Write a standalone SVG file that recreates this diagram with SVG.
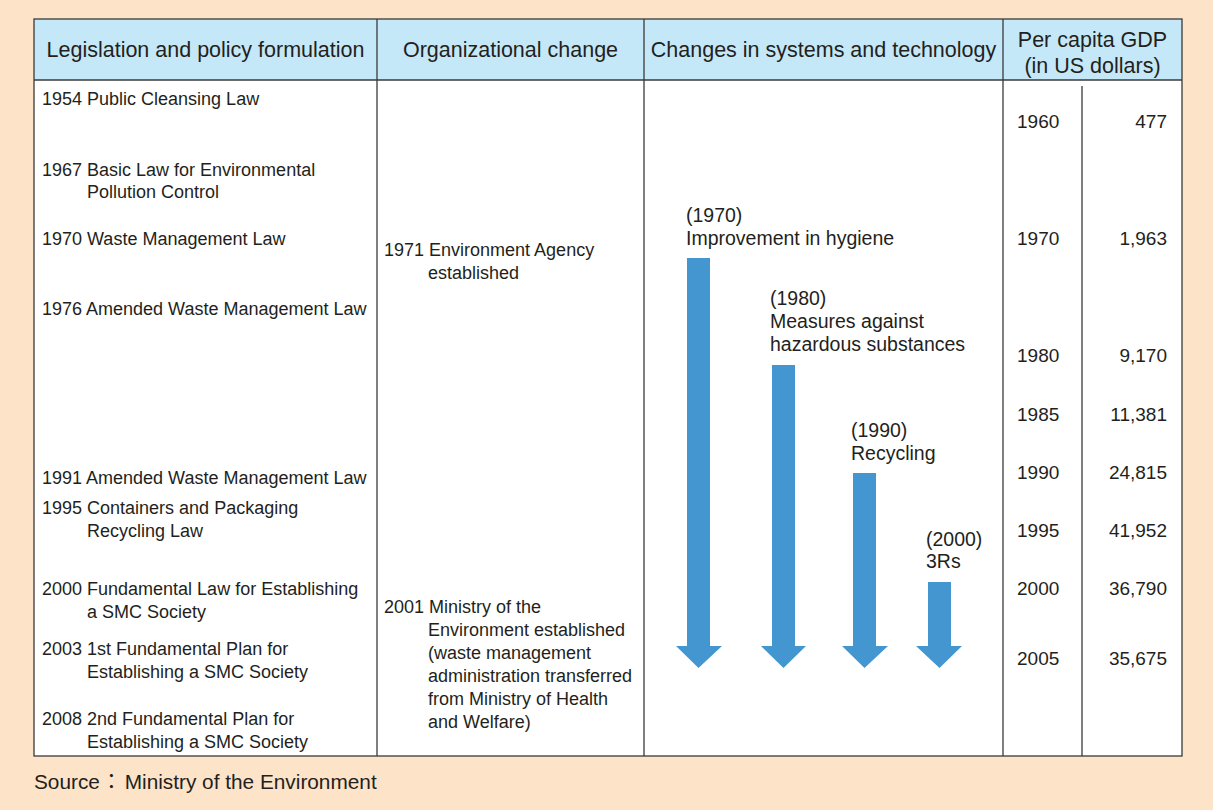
<svg xmlns="http://www.w3.org/2000/svg" width="1213" height="810" viewBox="0 0 1213 810">
<style>
text{font-family:"Liberation Sans",Arial,"Noto Sans CJK JP",sans-serif;fill:#231f20}
.hd{font-size:21.5px;text-anchor:middle}
.b{font-size:18px}
.g{font-size:19px}
.gr{font-size:19px;text-anchor:end}
.al{font-size:19.5px}
.src{font-size:20.8px}
.ln{stroke:#3a3a3a;stroke-width:1.3;fill:none}
.arr{fill:#4496d1}
</style>
<rect x="0" y="0" width="1213" height="810" fill="#fde3c8"/>
<g id="table">
<rect x="34" y="19" width="1148" height="737" fill="#ffffff"/>
<rect x="34" y="19" width="1148" height="61" fill="#c5e8f8"/>
<rect class="ln" x="34" y="19" width="1148" height="737"/>
<line class="ln" x1="34" y1="80" x2="1182" y2="80"/>
<line class="ln" x1="377" y1="19" x2="377" y2="756"/>
<line class="ln" x1="644" y1="19" x2="644" y2="756"/>
<line class="ln" x1="1003" y1="19" x2="1003" y2="756"/>
<line class="ln" x1="1082" y1="86" x2="1082" y2="756"/>
</g>
<g id="headers">
<text class="hd" x="205.5" y="57">Legislation and policy formulation</text>
<text class="hd" x="510.5" y="57">Organizational change</text>
<text class="hd" x="823.5" y="57">Changes in systems and technology</text>
<text class="hd" x="1092.5" y="47">Per capita GDP</text>
<text class="hd" x="1092.5" y="73">(in US dollars)</text>
</g>
<g id="legislation">
<text class="b" x="42" y="105">1954 Public Cleansing Law</text>
<text class="b" x="42" y="176">1967 Basic Law for Environmental</text>
<text class="b" x="87" y="198">Pollution Control</text>
<text class="b" x="42" y="245">1970 Waste Management Law</text>
<text class="b" x="42" y="315">1976 Amended Waste Management Law</text>
<text class="b" x="42" y="484">1991 Amended Waste Management Law</text>
<text class="b" x="42" y="514">1995 Containers and Packaging</text>
<text class="b" x="87" y="537">Recycling Law</text>
<text class="b" x="42" y="595">2000 Fundamental Law for Establishing</text>
<text class="b" x="87" y="618">a SMC Society</text>
<text class="b" x="42" y="655">2003 1st Fundamental Plan for</text>
<text class="b" x="87" y="678">Establishing a SMC Society</text>
<text class="b" x="42" y="725">2008 2nd Fundamental Plan for</text>
<text class="b" x="87" y="748">Establishing a SMC Society</text>
</g>
<g id="organization">
<text class="b" x="384" y="256">1971 Environment Agency</text>
<text class="b" x="428" y="279">established</text>
<text class="b" x="384" y="613">2001 Ministry of the</text>
<text class="b" x="428" y="636">Environment established</text>
<text class="b" x="428" y="659">(waste management</text>
<text class="b" x="428" y="682">administration transferred</text>
<text class="b" x="428" y="705">from Ministry of Health</text>
<text class="b" x="428" y="728">and Welfare)</text>
</g>
<g id="arrows">
<polygon class="arr" points="687,258 710,258 710,646 722,646 698.5,668 676,646 687,646"/>
<polygon class="arr" points="772,365 795,365 795,646 806,646 783.5,668 761,646 772,646"/>
<polygon class="arr" points="853,473 876,473 876,646 888,646 864.5,668 842,646 853,646"/>
<polygon class="arr" points="928,582 951,582 951,646 962,646 939.5,668 916,646 928,646"/>
</g>
<g id="arrow-labels">
<text class="al" x="686" y="222">(1970)</text>
<text class="al" x="686" y="245">Improvement in hygiene</text>
<text class="al" x="770" y="305">(1980)</text>
<text class="al" x="770" y="328">Measures against</text>
<text class="al" x="770" y="351">hazardous substances</text>
<text class="al" x="851" y="437">(1990)</text>
<text class="al" x="851" y="460">Recycling</text>
<text class="al" x="926" y="546">(2000)</text>
<text class="al" x="926" y="568">3Rs</text>
</g>
<g id="gdp">
<text class="g" x="1017" y="128">1960</text><text class="gr" x="1167" y="128">477</text>
<text class="g" x="1017" y="245">1970</text><text class="gr" x="1167" y="245">1,963</text>
<text class="g" x="1017" y="362">1980</text><text class="gr" x="1167" y="362">9,170</text>
<text class="g" x="1017" y="421">1985</text><text class="gr" x="1167" y="421">11,381</text>
<text class="g" x="1017" y="479">1990</text><text class="gr" x="1167" y="479">24,815</text>
<text class="g" x="1017" y="537">1995</text><text class="gr" x="1167" y="537">41,952</text>
<text class="g" x="1017" y="595">2000</text><text class="gr" x="1167" y="595">36,790</text>
<text class="g" x="1017" y="665">2005</text><text class="gr" x="1167" y="665">35,675</text>
</g>
<g id="source">
<text class="src" x="34" y="789">Source<tspan dx="1">：</tspan><tspan dx="3">Ministry of the Environment</tspan></text>
</g>
</svg>
